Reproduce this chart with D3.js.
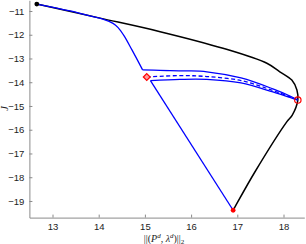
<!DOCTYPE html>
<html>
<head>
<meta charset="utf-8">
<script src="https://cdn.jsdelivr.net/npm/d3@7"></script>
<style>
  body { margin: 0; background: #fff; }
  svg { display: block; }
  .axis path, .axis line { stroke: #8a8a8a; }
  .axis text { font-family: "Liberation Sans", Arial, sans-serif; font-size: 9.5px; fill: #222; }
</style>
</head>
<body>
<svg id="chart" width="306" height="244"></svg>
<script>
// data
const xTicks = [13, 14, 15, 16, 17, 18];
const yTicks = [-11, -12, -13, -14, -15, -16, -17, -18, -19];

const blackX = [12.66, 14.03, 15.33, 16.69, 17.64, 17.92, 18.18, 18.29, 18.31, 18.19, 18.07, 17.38, 16.95, 16.91];
const blackY = [-10.71, -11.30, -11.87, -12.57, -13.20, -13.56, -13.91, -14.33, -14.75, -15.38, -15.67, -17.78, -19.25, -19.39];

const descentX = [12.66, 13.38, 13.81, 14.09, 14.31, 14.42, 14.55, 14.72, 14.95];
const descentY = [-10.71, -11.0, -11.21, -11.34, -11.52, -11.70, -12.05, -12.64, -13.48];

const upperX = [14.95, 15.33, 15.87, 16.34, 17.08, 17.77, 18.14, 18.31];
const upperY = [-13.48, -13.50, -13.52, -13.56, -13.82, -14.28, -14.58, -14.75];

const lowerX = [18.31, 18.14, 17.77, 17.08, 16.34, 15.76, 15.12];
const lowerY = [-14.75, -14.64, -14.41, -14.03, -13.88, -13.88, -13.93];

const diagX = [15.12, 16.91];
const diagY = [-13.93, -19.39];

const dashX = [15.04, 15.76, 16.34, 17.08, 17.77, 18.14, 18.31];
const dashY = [-13.78, -13.72, -13.76, -13.93, -14.35, -14.62, -14.75];

const startPt = [12.66, -10.71];
const diamondPt = [15.04, -13.78];
const circlePt = [18.31, -14.75];
const endPt = [16.91, -19.39];

const zip = (xs, ys) => xs.map((x, i) => [x, ys[i]]);

const svg = d3.select("#chart");

// scales
const xScale = d3.scaleLinear().domain([12.5, 18.45]).range([29.4, 304.3]);
const yScale = d3.scaleLinear().domain([-19.7, -10.55]).range([217.6, 0.3]);

// axes (inward ticks, left + bottom only)
const xAxis = d3.axisBottom(xScale).tickValues(xTicks).tickFormat(d3.format("d"))
  .tickSizeInner(-3).tickSizeOuter(0).tickPadding(6);
const yAxis = d3.axisLeft(yScale).tickValues(yTicks)
  .tickSizeInner(-3).tickSizeOuter(0).tickPadding(5);

svg.append("g")
  .attr("class", "axis")
  .attr("transform", `translate(0, ${yScale(-19.7)})`)
  .call(xAxis);

svg.append("g")
  .attr("class", "axis")
  .attr("transform", `translate(${xScale(12.5)}, 0)`)
  .call(yAxis);

// curves
const lineGen = d3.line()
  .x((d) => xScale(d[0]))
  .y((d) => yScale(d[1]))
  .curve(d3.curveCatmullRom.alpha(0.5));

svg.append("path")
  .attr("d", lineGen(zip(blackX, blackY)))
  .attr("fill", "none")
  .attr("stroke", "#000")
  .attr("stroke-width", 1.5);

[[descentX, descentY], [upperX, upperY], [lowerX, lowerY], [diagX, diagY]].forEach(([xs, ys]) => {
  svg.append("path")
    .attr("d", lineGen(zip(xs, ys)))
    .attr("fill", "none")
    .attr("stroke", "#0000ff")
    .attr("stroke-width", 1.3)
    .attr("stroke-linejoin", "round");
});

svg.append("path")
  .attr("d", lineGen(zip(dashX, dashY)))
  .attr("fill", "none")
  .attr("stroke", "#0000ff")
  .attr("stroke-width", 1.3)
  .attr("stroke-dasharray", "4,2.5");

// markers
svg.append("circle")
  .attr("cx", xScale(startPt[0])).attr("cy", yScale(startPt[1]))
  .attr("r", 2.4).attr("fill", "#000");

svg.append("circle")
  .attr("cx", xScale(endPt[0])).attr("cy", yScale(endPt[1]))
  .attr("r", 2.4).attr("fill", "#ff0000");

svg.append("circle")
  .attr("cx", xScale(circlePt[0])).attr("cy", yScale(circlePt[1]))
  .attr("r", 3.2).attr("fill", "none")
  .attr("stroke", "#ff0000").attr("stroke-width", 1.2);

svg.append("path")
  .attr("d", d3.symbol(d3.symbolDiamond2, 30)())
  .attr("transform", `translate(${xScale(diamondPt[0])}, ${yScale(diamondPt[1])})`)
  .attr("fill", "#ff9a9a")
  .attr("stroke", "#ff0000")
  .attr("stroke-width", 1.2);

// axis labels
svg.append("text")
  .attr("transform", `translate(8, ${yScale(-15.1)}) rotate(-90)`)
  .attr("text-anchor", "middle")
  .attr("font-family", "'Liberation Serif', 'DejaVu Serif', serif")
  .attr("font-style", "italic")
  .attr("font-size", 10.5)
  .attr("fill", "#222")
  .text("J");

const xLabel = svg.append("text")
  .attr("x", 164)
  .attr("y", 241.5)
  .attr("text-anchor", "middle")
  .attr("font-family", "'Liberation Serif', 'DejaVu Serif', serif")
  .attr("font-size", 10)
  .attr("fill", "#222");
xLabel.append("tspan").text("||(");
xLabel.append("tspan").attr("font-style", "italic").text("P");
xLabel.append("tspan").attr("font-size", 7).attr("dy", -4).attr("font-style", "italic").text("d");
xLabel.append("tspan").attr("dy", 4).text(", ");
xLabel.append("tspan").attr("font-style", "italic").text("λ");
xLabel.append("tspan").attr("font-size", 7).attr("dy", -4).attr("font-style", "italic").text("d");
xLabel.append("tspan").attr("dy", 4).text(")||");
xLabel.append("tspan").attr("font-size", 7).attr("dy", 2).text("2");
</script>
</body>
</html>
